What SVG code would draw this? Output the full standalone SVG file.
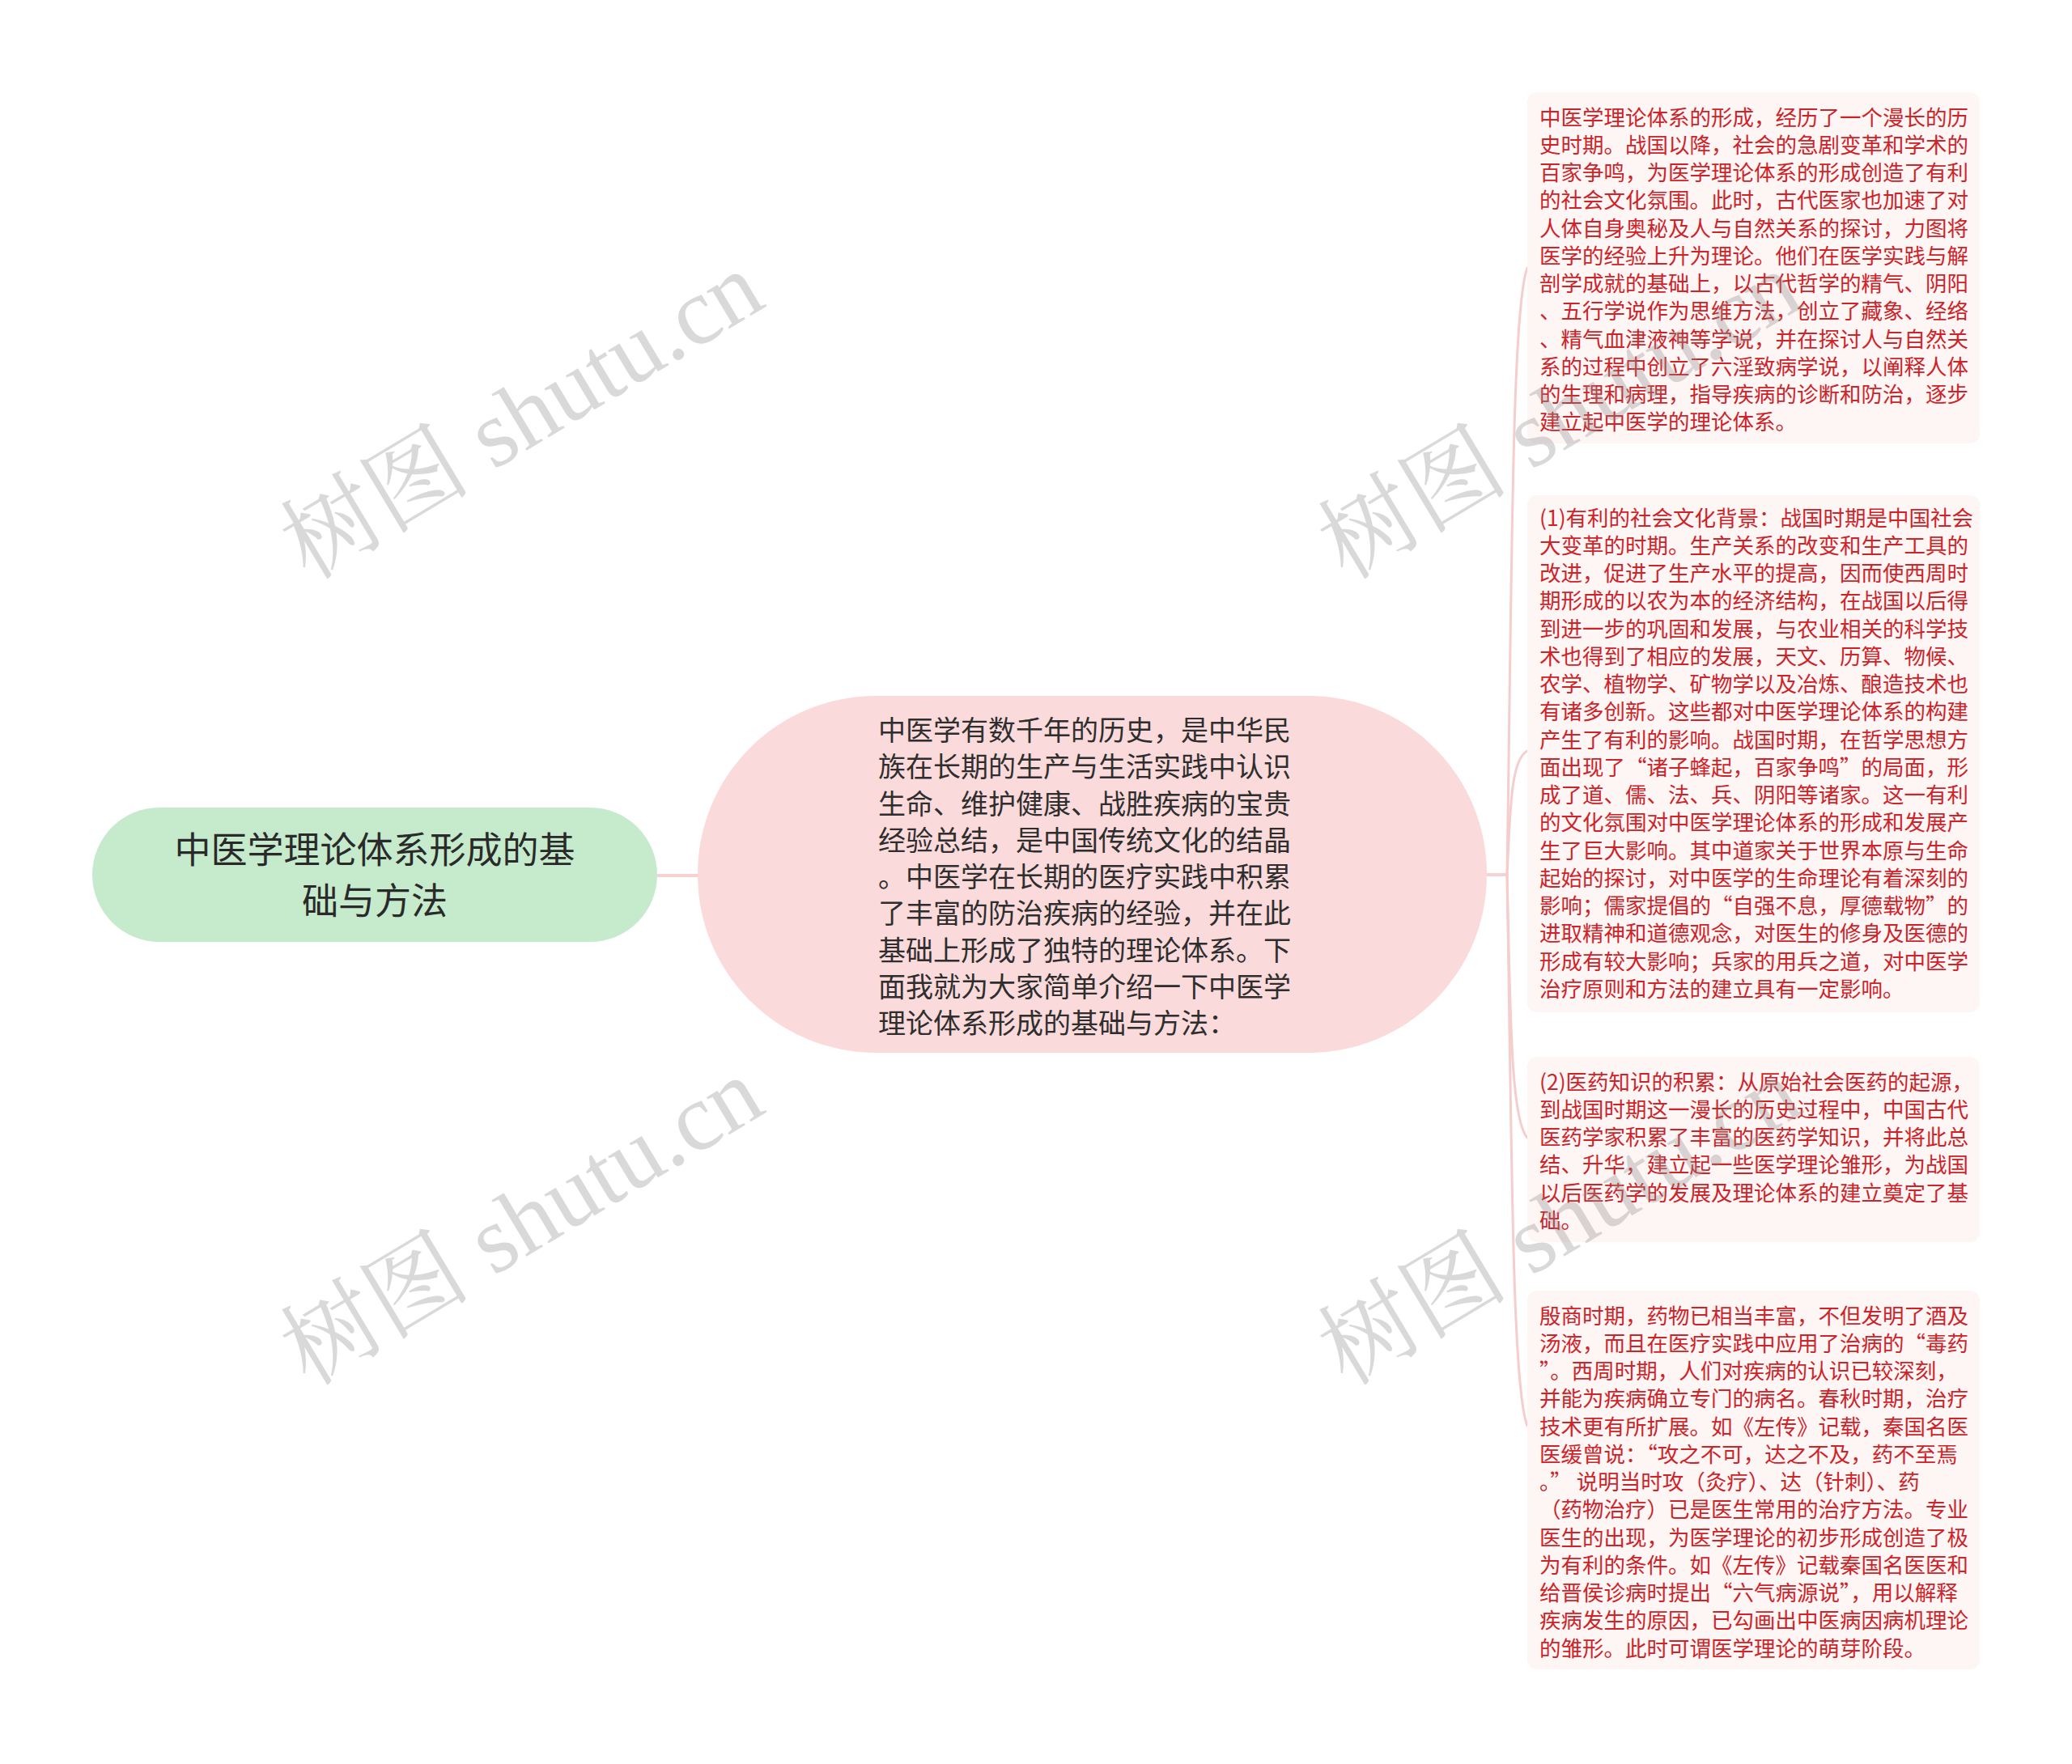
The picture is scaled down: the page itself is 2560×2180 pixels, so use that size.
<svg xmlns="http://www.w3.org/2000/svg" width="2560" height="2180" viewBox="0 0 2560 2180">
<style>
.bg{fill:#ffffff}
.conn{fill:none;stroke:#f5cdcd;stroke-width:3;stroke-linecap:round}
.conn2{fill:none;stroke:#f7d2d2;stroke-width:4}
.root{fill:#c6eacc}
.mid{fill:#fadada}
.box{fill:#fef5f5}
.rt{font-family:"Noto Sans CJK SC","Noto Sans",sans-serif;font-size:45px;fill:#2a2a2a;text-anchor:middle;dominant-baseline:central}
.mt{font-family:"Noto Sans CJK SC","Noto Sans",sans-serif;font-size:34px;fill:#2e2e2e;dominant-baseline:central}
.bt{font-family:"Noto Sans CJK SC","Noto Sans",sans-serif;font-size:26.5px;fill:#cc2429;dominant-baseline:central}
.wm{font-family:"Liberation Serif","Noto Serif CJK SC","Noto Sans CJK SC",serif;font-size:118px;fill:#8c8c8c;fill-opacity:0.33;text-anchor:middle;dominant-baseline:central}
</style>
<rect class="bg" x="0" y="0" width="2560" height="2180"/>
<g id="connectors">
<path class="conn2" d="M812,1082 L863,1082"/>
<path class="conn2" d="M1836,1081 L1863,1081"/>
<path class="conn" d="M1862,1081 C1868,700 1868,380 1887,331"/>
<path class="conn" d="M1862,1081 C1866,1004 1866,939 1887,928"/>
<path class="conn" d="M1862,1081 C1866,1243 1866,1383 1887,1406"/>
<path class="conn" d="M1862,1081 C1868,1421 1868,1714 1887,1762"/>
</g>
<g id="node-root">
<rect class="root" x="114" y="998" width="698" height="166" rx="83" ry="83"/>
<text class="rt" x="463" y="1047">中医学理论体系形成的基</text>
<text class="rt" x="463" y="1110">础与方法</text>
</g>
<g id="node-intro">
<rect class="mid" x="862" y="860" width="975" height="441" rx="220" ry="220"/>
<text class="mt" x="1085" y="900">中医学有数千年的历史，是中华民</text>
<text class="mt" x="1085" y="945">族在长期的生产与生活实践中认识</text>
<text class="mt" x="1085" y="991">生命、维护健康、战胜疾病的宝贵</text>
<text class="mt" x="1085" y="1036">经验总结，是中国传统文化的结晶</text>
<text class="mt" x="1085" y="1081">。中医学在长期的医疗实践中积累</text>
<text class="mt" x="1085" y="1126">了丰富的防治疾病的经验，并在此</text>
<text class="mt" x="1085" y="1172">基础上形成了独特的理论体系。下</text>
<text class="mt" x="1085" y="1217">面我就为大家简单介绍一下中医学</text>
<text class="mt" x="1085" y="1262">理论体系形成的基础与方法：</text>
</g>
<g id="node-1">
<rect class="box" x="1887" y="114" width="559" height="434" rx="12" ry="12"/>
<text class="bt" x="1902" y="143">中医学理论体系的形成，经历了一个漫长的历</text>
<text class="bt" x="1902" y="177.25">史时期。战国以降，社会的急剧变革和学术的</text>
<text class="bt" x="1902" y="211.5">百家争鸣，为医学理论体系的形成创造了有利</text>
<text class="bt" x="1902" y="245.75">的社会文化氛围。此时，古代医家也加速了对</text>
<text class="bt" x="1902" y="280">人体自身奥秘及人与自然关系的探讨，力图将</text>
<text class="bt" x="1902" y="314.25">医学的经验上升为理论。他们在医学实践与解</text>
<text class="bt" x="1902" y="348.5">剖学成就的基础上，以古代哲学的精气、阴阳</text>
<text class="bt" x="1902" y="382.75">、五行学说作为思维方法，创立了藏象、经络</text>
<text class="bt" x="1902" y="417">、精气血津液神等学说，并在探讨人与自然关</text>
<text class="bt" x="1902" y="451.25">系的过程中创立了六淫致病学说，以阐释人体</text>
<text class="bt" x="1902" y="485.5">的生理和病理，指导疾病的诊断和防治，逐步</text>
<text class="bt" x="1902" y="519.75">建立起中医学的理论体系。</text>
</g>
<g id="node-2">
<rect class="box" x="1887" y="612" width="559" height="639" rx="12" ry="12"/>
<text class="bt" x="1902" y="638">(1)有利的社会文化背景：战国时期是中国社会</text>
<text class="bt" x="1902" y="672.25">大变革的时期。生产关系的改变和生产工具的</text>
<text class="bt" x="1902" y="706.5">改进，促进了生产水平的提高，因而使西周时</text>
<text class="bt" x="1902" y="740.75">期形成的以农为本的经济结构，在战国以后得</text>
<text class="bt" x="1902" y="775">到进一步的巩固和发展，与农业相关的科学技</text>
<text class="bt" x="1902" y="809.25">术也得到了相应的发展，天文、历算、物候、</text>
<text class="bt" x="1902" y="843.5">农学、植物学、矿物学以及冶炼、酿造技术也</text>
<text class="bt" x="1902" y="877.75">有诸多创新。这些都对中医学理论体系的构建</text>
<text class="bt" x="1902" y="912">产生了有利的影响。战国时期，在哲学思想方</text>
<text class="bt" x="1902" y="946.25">面出现了“诸子蜂起，百家争鸣”的局面，形</text>
<text class="bt" x="1902" y="980.5">成了道、儒、法、兵、阴阳等诸家。这一有利</text>
<text class="bt" x="1902" y="1014.75">的文化氛围对中医学理论体系的形成和发展产</text>
<text class="bt" x="1902" y="1049">生了巨大影响。其中道家关于世界本原与生命</text>
<text class="bt" x="1902" y="1083.25">起始的探讨，对中医学的生命理论有着深刻的</text>
<text class="bt" x="1902" y="1117.5">影响；儒家提倡的“自强不息，厚德载物”的</text>
<text class="bt" x="1902" y="1151.75">进取精神和道德观念，对医生的修身及医德的</text>
<text class="bt" x="1902" y="1186">形成有较大影响；兵家的用兵之道，对中医学</text>
<text class="bt" x="1902" y="1220.25">治疗原则和方法的建立具有一定影响。</text>
</g>
<g id="node-3">
<rect class="box" x="1887" y="1306" width="559" height="229" rx="12" ry="12"/>
<text class="bt" x="1902" y="1335">(2)医药知识的积累：从原始社会医药的起源，</text>
<text class="bt" x="1902" y="1369.25">到战国时期这一漫长的历史过程中，中国古代</text>
<text class="bt" x="1902" y="1403.5">医药学家积累了丰富的医药学知识，并将此总</text>
<text class="bt" x="1902" y="1437.75">结、升华，建立起一些医学理论雏形，为战国</text>
<text class="bt" x="1902" y="1472">以后医药学的发展及理论体系的建立奠定了基</text>
<text class="bt" x="1902" y="1506.25">础。</text>
</g>
<g id="node-4">
<rect class="box" x="1887" y="1595" width="559" height="468" rx="12" ry="12"/>
<text class="bt" x="1902" y="1624">殷商时期，药物已相当丰富，不但发明了酒及</text>
<text class="bt" x="1902" y="1658.25">汤液，而且在医疗实践中应用了治病的“毒药</text>
<text class="bt" x="1902" y="1692.5">”。西周时期，人们对疾病的认识已较深刻，</text>
<text class="bt" x="1902" y="1726.75">并能为疾病确立专门的病名。春秋时期，治疗</text>
<text class="bt" x="1902" y="1761">技术更有所扩展。如《左传》记载，秦国名医</text>
<text class="bt" x="1902" y="1795.25">医缓曾说：“攻之不可，达之不及，药不至焉</text>
<text class="bt" x="1902" y="1829.5">。” 说明当时攻（灸疗）、达（针刺）、药</text>
<text class="bt" x="1902" y="1863.75">（药物治疗）已是医生常用的治疗方法。专业</text>
<text class="bt" x="1902" y="1898">医生的出现，为医学理论的初步形成创造了极</text>
<text class="bt" x="1902" y="1932.25">为有利的条件。如《左传》记载秦国名医医和</text>
<text class="bt" x="1902" y="1966.5">给晋侯诊病时提出“六气病源说”，用以解释</text>
<text class="bt" x="1902" y="2000.75">疾病发生的原因，已勾画出中医病因病机理论</text>
<text class="bt" x="1902" y="2035">的雏形。此时可谓医学理论的萌芽阶段。</text>
</g>
<g id="watermarks">
<text class="wm" transform="translate(645,514) rotate(-31)">树图 shutu.cn</text>
<text class="wm" transform="translate(1927,514) rotate(-31)">树图 shutu.cn</text>
<text class="wm" transform="translate(645,1510) rotate(-31)">树图 shutu.cn</text>
<text class="wm" transform="translate(1927,1510) rotate(-31)">树图 shutu.cn</text>
</g>
</svg>
